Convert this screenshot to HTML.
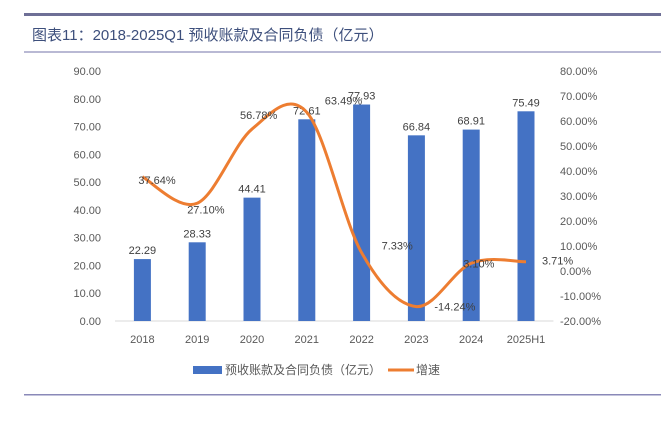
<!DOCTYPE html>
<html><head><meta charset="utf-8"><style>
body{margin:0;background:#fff;width:661px;height:416px;overflow:hidden;font-family:"Liberation Sans","Noto Sans CJK SC",sans-serif}
svg text{font-family:"Liberation Sans","Noto Sans CJK SC",sans-serif}
</style></head><body>
<svg width="661" height="416">
<rect x="24" y="13" width="637" height="3" fill="#6e6f96"/>
<text x="32" y="40" font-size="15" fill="#3d4f7c">图表11：2018-2025Q1 预收账款及合同负债（亿元）</text>
<rect x="24" y="51" width="637" height="2" fill="#b9b9d4"/>
<rect x="24" y="394" width="637" height="1.5" fill="#8a89b8"/>
<g id="plot"></g>
<rect x="193" y="366" width="29" height="8" fill="#4472c4"/>
<text x="225" y="374" font-size="12" fill="#595959">预收账款及合同负债（亿元）</text>
<line x1="388" y1="370" x2="414" y2="370" stroke="#ed7d31" stroke-width="3"/>
<text x="416" y="374" font-size="12" fill="#595959">增速</text>
</svg>
<script>
const categories=["2018","2019","2020","2021","2022","2023","2024","2025H1"];
const barValues=[22.29,28.33,44.41,72.61,77.93,66.84,68.91,75.49];
const growthValues=[37.64,27.10,56.78,63.49,7.33,-14.24,3.10,3.71];
const leftTicks=[0,10,20,30,40,50,60,70,80,90];
const rightTicks=[-20,-10,0,10,20,30,40,50,60,70,80];
const NS="http://www.w3.org/2000/svg";
const g=document.getElementById('plot');
const yTop=71,yBottom=321,x0=115,step=54.8;
const yL=v=>yBottom-(v/90)*(yBottom-yTop);
const yR=v=>yBottom-((v+20)/100)*(yBottom-yTop);
const xC=i=>x0+step*(i+0.5);
function mk(t,a){const e=document.createElementNS(NS,t);for(const k in a)e.setAttribute(k,a[k]);g.appendChild(e);return e;}
let base=mk('line',{x1:x0,x2:x0+step*8,y1:yBottom,y2:yBottom,stroke:'#d9d9d9','stroke-width':1});


leftTicks.forEach(v=>{const t=mk('text',{x:101,y:yL(v)+4,'font-size':11,fill:'#595959','text-anchor':'end'});t.textContent=v.toFixed(2);

});
rightTicks.forEach(v=>{const t=mk('text',{x:560,y:yR(v)+4,'font-size':11,fill:'#595959'});t.textContent=v.toFixed(2)+'%';

});
categories.forEach((c,i)=>{const t=mk('text',{x:xC(i),y:yBottom+22,'font-size':11,fill:'#595959','text-anchor':'middle'});t.textContent=c;

});
barValues.forEach((v,i)=>{const r=mk('rect',{x:xC(i)-8.5,y:yL(v),width:17,height:yBottom-yL(v),fill:'#4472c4'});


const t=mk('text',{x:xC(i),y:yL(v)-5,'font-size':11,fill:'#404040','text-anchor':'middle'});t.textContent=v.toFixed(2);

});
const pts=growthValues.map((v,i)=>[xC(i),yR(v)]);
let d='M'+pts[0][0]+','+pts[0][1];
for(let i=0;i<pts.length-1;i++){const p0=pts[i-1]||pts[i],p1=pts[i],p2=pts[i+1],p3=pts[i+2]||p2;
const c1=[p1[0]+(p2[0]-p0[0])/6,p1[1]+(p2[1]-p0[1])/6],c2=[p2[0]-(p3[0]-p1[0])/6,p2[1]-(p3[1]-p1[1])/6];
d+=` C${c1[0]},${c1[1]} ${c2[0]},${c2[1]} ${p2[0]},${p2[1]}`;}
const path=mk('path',{d:d,fill:'none',stroke:'#ed7d31','stroke-width':3});


const off=[[-4,7],[-10,10],[-12,-10],[18,-8],[20,-3],[18,4],[-8,4],[16,3]];
growthValues.forEach((v,i)=>{const t=mk('text',{x:pts[i][0]+off[i][0],y:pts[i][1]+off[i][1],'font-size':11,fill:'#404040'});t.textContent=v.toFixed(2)+'%';

});
</script>
</body></html>
